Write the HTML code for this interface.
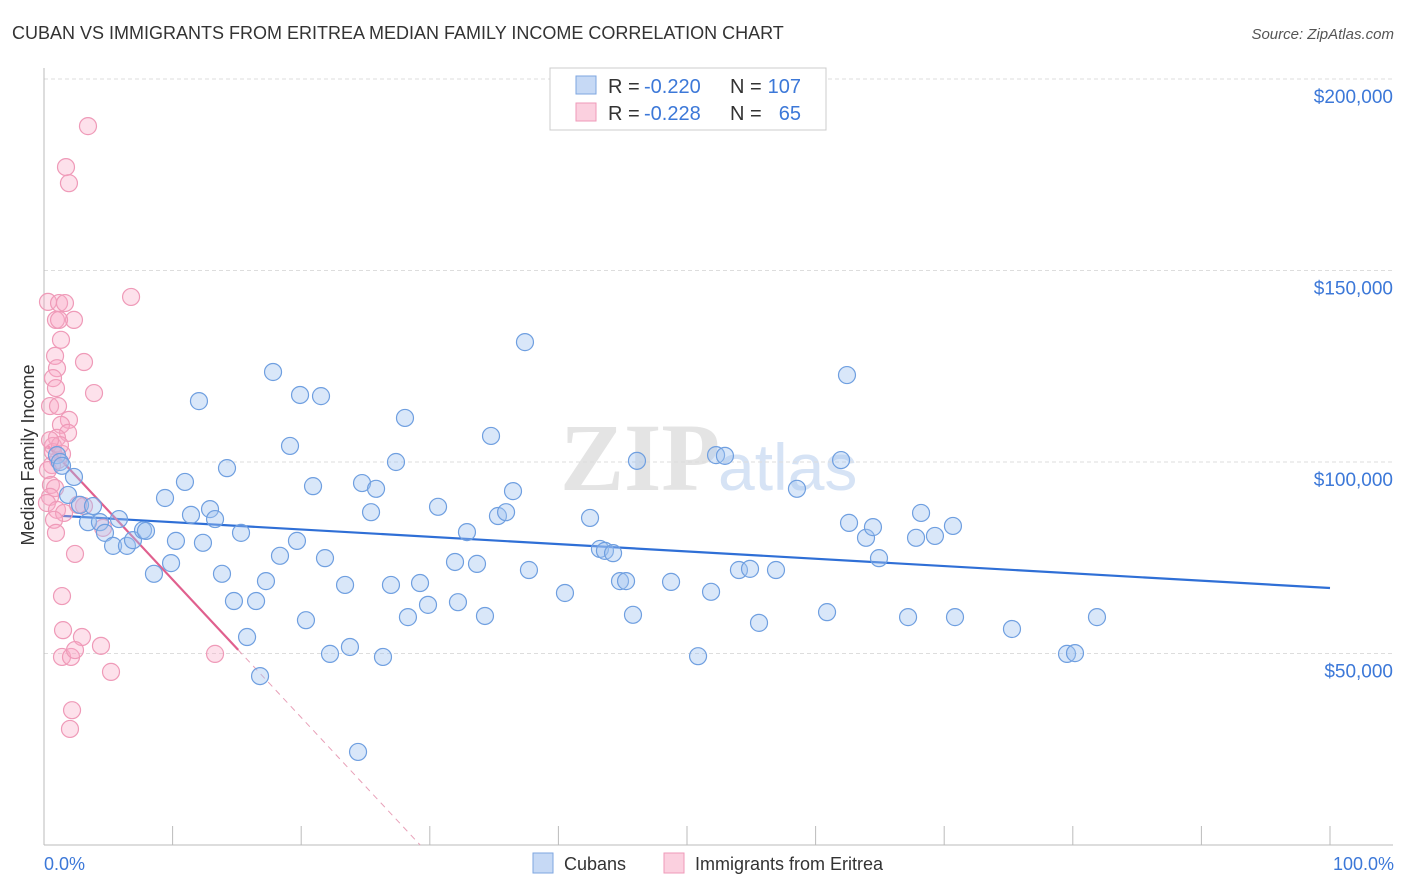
<!DOCTYPE html>
<html><head><meta charset="utf-8"><style>
body{margin:0;background:#fff;font-family:"Liberation Sans",sans-serif;}
svg{display:block}
</style></head><body>
<svg id="chart" width="1406" height="892">
<text x="12" y="39" font-size="18" fill="#333">CUBAN VS IMMIGRANTS FROM ERITREA MEDIAN FAMILY INCOME CORRELATION CHART</text>
<text x="1394" y="39" font-size="15" fill="#555" text-anchor="end" font-style="italic">Source: ZipAtlas.com</text>
<text x="720" y="490" font-size="96" fill="#e4e4e4" text-anchor="end" font-family="Liberation Serif,serif" font-weight="bold">ZIP</text>
<text x="718" y="490" font-size="66" fill="#d6e3f5">atlas</text>
<g id="grid"></g><g id="axes"></g><g id="lines"></g><g id="pts"></g>
<text transform="translate(34,455) rotate(-90)" font-size="18" fill="#333" text-anchor="middle">Median Family Income</text>
<text x="44" y="870" font-size="18" fill="#3c78d8">0.0%</text>
<text x="1394" y="870" font-size="18" fill="#3c78d8" text-anchor="end">100.0%</text>
<g>
<rect x="550" y="68" width="276" height="62" fill="#fff" stroke="#ccc"/>
<rect x="576" y="76" width="20" height="18" fill="#c6d9f5" stroke="#7ea6e0"/>
<rect x="576" y="103" width="20" height="18" fill="#fbd0df" stroke="#ef9ab8"/>
<text x="608" y="93" font-size="20" fill="#333">R =</text>
<text x="644" y="93" font-size="20" fill="#3c78d8">-0.220</text>
<text x="730" y="93" font-size="20" fill="#333">N =</text>
<text x="801" y="93" font-size="20" fill="#3c78d8" text-anchor="end">107</text>
<text x="608" y="120" font-size="20" fill="#333">R =</text>
<text x="644" y="120" font-size="20" fill="#3c78d8">-0.228</text>
<text x="730" y="120" font-size="20" fill="#333">N =</text>
<text x="801" y="120" font-size="20" fill="#3c78d8" text-anchor="end">65</text>
</g>
<g>
<rect x="533" y="853" width="20" height="20" fill="#c6d9f5" stroke="#7ea6e0"/>
<text x="564" y="870" font-size="18" fill="#333">Cubans</text>
<rect x="664" y="853" width="20" height="20" fill="#fbd0df" stroke="#ef9ab8"/>
<text x="695" y="870" font-size="18" fill="#333">Immigrants from Eritrea</text>
</g>
</svg>
<script>
const yTicks=[50,100,150,200];
const yTickLabels=["$50,000","$100,000","$150,000","$200,000"];
const xTicks=[0,10,20,30,40,50,60,70,80,90,100];
const cubanPx=[[57,455],[60,462],[62,466],[68,495],[74,477],[80,505],[88,522],[93,506],[100,522],[105,533],[113,546],[119,519],[127,546],[133,540],[143,530],[146,531],[154,574],[165,498],[171,563],[176,541],[185,482],[191,515],[199,401],[203,543],[210,509],[215,519],[222,574],[227,468],[234,601],[241,533],[247,637],[256,601],[260,676],[266,581],[273,372],[280,556],[290,446],[297,541],[306,620],[300,395],[313,486],[321,396],[325,558],[330,654],[345,585],[350,647],[358,752],[362,483],[371,512],[376,489],[383,657],[391,585],[396,462],[405,418],[408,617],[420,583],[428,605],[438,507],[455,562],[458,602],[467,532],[477,564],[485,616],[491,436],[498,516],[506,512],[513,491],[525,342],[529,570],[565,593],[590,518],[600,549],[605,551],[613,553],[620,581],[626,581],[633,615],[637,461],[671,582],[698,656],[711,592],[716,455],[725,456],[739,570],[750,569],[759,623],[776,570],[797,489],[827,612],[841,460],[847,375],[849,523],[866,538],[873,527],[879,558],[908,617],[916,538],[921,513],[935,536],[953,526],[955,617],[1012,629],[1067,654],[1075,653],[1097,617]];
const eritreaPx=[[66,167],[69,183],[88,126],[131,297],[48,302],[59,303],[65,303],[56,320],[74,320],[59,320],[61,340],[84,362],[55,356],[57,368],[94,393],[53,378],[56,388],[50,406],[58,406],[69,420],[61,425],[68,433],[57,438],[53,446],[62,454],[58,460],[52,465],[48,470],[51,485],[55,488],[50,497],[47,503],[57,510],[64,513],[84,506],[54,520],[56,533],[103,528],[75,554],[62,596],[63,630],[82,637],[62,657],[71,657],[75,650],[101,646],[111,672],[72,710],[70,729],[215,654],[53,452],[60,445],[78,505],[50,440]];
const cubanX=cubanPx.map(p=>+((p[0]-44)/12.86).toFixed(2));
const cubanY=cubanPx.map(p=>+((845-p[1])/3.83).toFixed(1));
const eritreaX=eritreaPx.map(p=>+((p[0]-44)/12.86).toFixed(2));
const eritreaY=eritreaPx.map(p=>+((845-p[1])/3.83).toFixed(1));
const cubanTrend=[86.2,67.1];
const eritreaTrend=[105.3,-3.6];
const X=v=>44+v*12.86, Y=v=>845-v*3.83;
const NS="http://www.w3.org/2000/svg";
function mk(parent,tag,attrs){const e=document.createElementNS(NS,tag);for(const k in attrs)e.setAttribute(k,attrs[k]);document.getElementById(parent).appendChild(e);return e;}
yTicks.forEach((t,i)=>{
 const g=mk('grid','line',{x1:44,x2:1393,y1:Y(t),y2:Y(t),stroke:'#ddd','stroke-dasharray':'4,3'});
 
 
 const l=mk('grid','text',{x:1393,y:Y(t)+24,'font-size':19,fill:'#3c78d8','text-anchor':'end'});
 l.textContent=yTickLabels[i];
 
 
});
const ax=mk('axes','line',{x1:44,x2:44,y1:68,y2:845,stroke:'#bbb'});


const bx=mk('axes','line',{x1:44,x2:1393,y1:845,y2:845,stroke:'#bbb'});


xTicks.forEach(t=>{const e=mk('axes','line',{x1:X(t),x2:X(t),y1:826,y2:845,stroke:'#bbb'});
 
 });
function pt(x,y,fill,stroke,name){const c=mk('pts','circle',{cx:X(x),cy:Y(y),r:8.5,fill:fill,stroke:stroke,'stroke-width':1.2});
 
 }
eritreaX.forEach((x,i)=>pt(x,eritreaY[i],'rgba(248,170,198,0.35)','#ef9ab8','eritrea-point'));
cubanX.forEach((x,i)=>pt(x,cubanY[i],'rgba(160,195,240,0.4)','#6f9fe0','cuban-point'));
const cl=mk('lines','line',{x1:X(1.4),y1:Y(cubanTrend[0]+(cubanTrend[1]-cubanTrend[0])*0.014),x2:X(100),y2:Y(cubanTrend[1]),stroke:'#2f6fd6','stroke-width':2.2});


const ef=v=>eritreaTrend[0]+eritreaTrend[1]*v;
const el1=mk('lines','line',{x1:X(0.3),y1:Y(ef(0.3)),x2:X(15.1),y2:Y(ef(15.1)),stroke:'#e0608e','stroke-width':2.2});


const xz=-eritreaTrend[0]/eritreaTrend[1];
const el2=mk('lines','line',{x1:X(15.1),y1:Y(ef(15.1)),x2:X(xz),y2:Y(0),stroke:'#e8a0b8','stroke-width':1,'stroke-dasharray':'6,5'});


</script>
</body></html>
